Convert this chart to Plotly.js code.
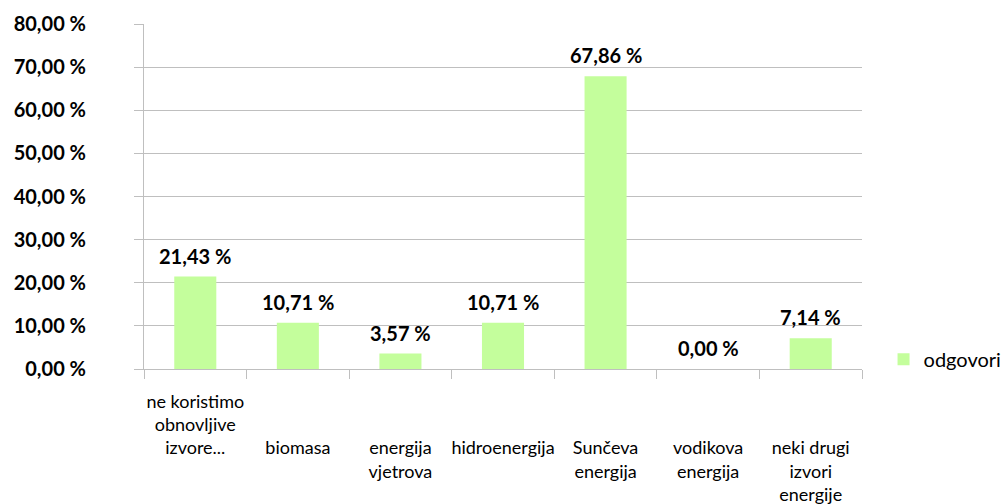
<!DOCTYPE html>
<html>
<head>
<meta charset="utf-8">
<script src="https://cdn.plot.ly/plotly-3.0.1.min.js"></script>
<style>html,body{margin:0;padding:0;background:#fff;}#chart{width:1008px;height:504px;}</style>
</head>
<body>
<div id="chart"></div>
<script>
const categories = ["ne koristimo<br>obnovljive<br>izvore...", "biomasa", "energija<br>vjetrova", "hidroenergija", "Sunčeva<br>energija", "vodikova<br>energija", "neki drugi<br>izvori<br>energije"];
const values = [21.43, 10.71, 3.57, 10.71, 67.86, 0.00, 7.14];
const seriesName = "odgovori";
const yTickValues = [0, 10, 20, 30, 40, 50, 60, 70, 80];

const font = "Lato, 'Open Sans', sans-serif";
const fmt = v => v.toFixed(2).replace('.', ',') + ' %';
const ticktext = categories.map((c, i) => i === 0 ? c : '\u00a0<br>\u00a0<br>' + c);

const trace = {
  type: 'bar',
  x: categories,
  y: values,
  name: seriesName,
  marker: {color: 'rgb(196,254,156)'},
  showlegend: true,
  hoverinfo: 'x+y'
};

const annotations = categories.map((c, i) => ({
  x: c, y: values[i], xref: 'x', yref: 'y',
  text: '<b>' + fmt(values[i]) + '</b>',
  showarrow: false, yanchor: 'middle', xanchor: 'center', yshift: 21,
  font: {family: font, size: 20, color: '#000'}
}));

const layout = {
  width: 1008, height: 504,
  margin: {l: 144, r: 146, t: 24, b: 135, autoexpand: false},
  paper_bgcolor: '#fff', plot_bgcolor: '#fff',
  bargap: 0.59,
  font: {family: font, color: '#000'},
  annotations: annotations,
  xaxis: {
    type: 'category',
    automargin: false,
    tickmode: 'array',
    tickvals: categories,
    ticktext: ticktext,
    tickangle: 0,
    tickson: 'boundaries',
    ticks: 'outside', ticklen: 9, tickcolor: '#bfbfbf',
    showline: true, linecolor: '#bfbfbf', linewidth: 1,
    showgrid: false, zeroline: false,
    ticklabelstandoff: 16,
    tickfont: {family: font, size: 18, color: '#000'}
  },
  yaxis: {
    range: [0, 80],
    automargin: false,
    tickmode: 'array',
    tickvals: yTickValues,
    ticktext: yTickValues.map(fmt),
    showgrid: true, gridcolor: '#bfbfbf', gridwidth: 1,
    zeroline: false,
    ticks: 'outside', ticklen: 9, tickcolor: '#bfbfbf',
    showline: true, linecolor: '#bfbfbf', linewidth: 1,
    ticklabelstandoff: 44,
    tickfont: {family: font, size: 20, color: '#000', weight: 'bold'}
  },
  legend: {
    x: 1.03, y: 0.028, xanchor: 'left', yanchor: 'middle',
    font: {family: font, size: 20, color: '#000'},
    itemwidth: 30, bgcolor: 'rgba(0,0,0,0)'
  }
};

Plotly.newPlot('chart', [trace], layout, {displayModeBar: false, staticPlot: true});
</script>
</body>
</html>
